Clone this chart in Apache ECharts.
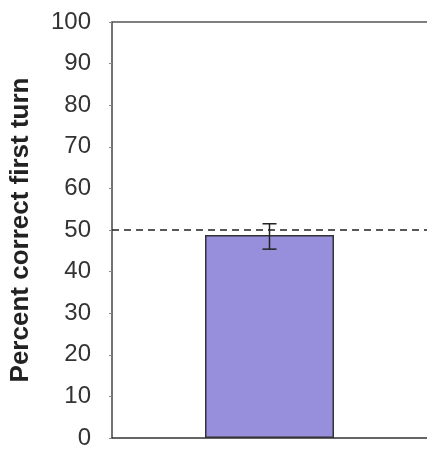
<!DOCTYPE html>
<html>
<head>
<meta charset="utf-8">
<script src="https://cdn.jsdelivr.net/npm/echarts@6/dist/echarts.min.js"></script>
<style>
html,body{margin:0;padding:0;background:#fff;}
#chart{width:427px;height:450px;}
</style>
</head>
<body>
<div id="chart"></div>
<script>
const categories = ['Condition'];
const meanValues = [48.8];
const errorLow = [45.4];
const errorHigh = [51.5];
const chanceLevel = [50];
const yTicks = { min: 0, max: 100, interval: 10 };

const chart = echarts.init(document.getElementById('chart'), null, { renderer: 'canvas' });

const errorData = categories.map((c, i) => [i, errorLow[i], errorHigh[i]]);

chart.setOption({
  animation: false,
  backgroundColor: '#ffffff',
  grid: { left: 111, right: -1, top: 22, bottom: 8 },
  xAxis: [
    {
      type: 'category',
      data: categories,
      axisLine: { show: true, lineStyle: { color: '#333', width: 1.5 } },
      axisTick: { show: false },
      axisLabel: { show: false },
      splitLine: { show: false }
    },
    {
      type: 'category',
      position: 'top',
      data: categories,
      axisLine: { show: true, lineStyle: { color: '#555', width: 1.5 } },
      axisTick: { show: false },
      axisLabel: { show: false },
      splitLine: { show: false }
    }
  ],
  yAxis: {
    type: 'value',
    min: yTicks.min, max: yTicks.max, interval: yTicks.interval,
    name: 'Percent correct first turn',
    nameLocation: 'middle',
    nameGap: 78,
    nameTextStyle: { fontFamily: 'Liberation Sans', fontSize: 26, fontWeight: 'bold', color: '#222' },
    axisLine: { show: true, lineStyle: { color: '#444', width: 1.5 } },
    axisTick: { show: true, length: 3, lineStyle: { color: '#888' } },
    axisLabel: { fontFamily: 'Liberation Sans', fontSize: 24, color: '#333', margin: 21 },
    splitLine: { show: false }
  },
  series: [
    {
      type: 'bar',
      data: meanValues,
      barWidth: 129,
      itemStyle: { color: '#978fdc', borderColor: '#333', borderWidth: 1.5 },
      markLine: {
        silent: true,
        symbol: 'none',
        label: { show: false },
        lineStyle: { type: [7, 5], color: '#222', width: 1.5 },
        data: chanceLevel.map(v => ({ yAxis: v }))
      },
      z: 2
    },
    {
      type: 'custom',
      data: errorData,
      z: 5,
      renderItem: function (params, api) {
        const x = api.value(0);
        const lo = api.coord([x, api.value(1)]);
        const hi = api.coord([x, api.value(2)]);
        const hw = 7;
        const style = { stroke: '#222', lineWidth: 1.5 };
        return {
          type: 'group',
          children: [
            { type: 'line', shape: { x1: lo[0], y1: lo[1], x2: hi[0], y2: hi[1] }, style },
            { type: 'line', shape: { x1: lo[0] - hw, y1: lo[1], x2: lo[0] + hw, y2: lo[1] }, style },
            { type: 'line', shape: { x1: hi[0] - hw, y1: hi[1], x2: hi[0] + hw, y2: hi[1] }, style }
          ]
        };
      }
    }
  ]
});
</script>
</body>
</html>
